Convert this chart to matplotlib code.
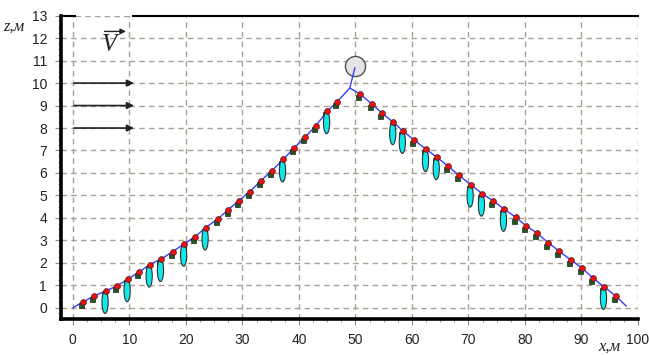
import matplotlib
matplotlib.use("Agg")
import matplotlib.pyplot as plt
from matplotlib.patches import Ellipse
from matplotlib.ticker import MultipleLocator

# cable nodes, left branch (x, z) in metres
left_x = [0, 1.8, 3.7, 5.8, 7.8, 9.7, 11.7, 13.6, 15.6, 17.7, 19.7, 21.6, 23.5, 25.7,
          27.5, 29.4, 31.3, 33.3, 35.2, 37.2, 39.1, 41.1, 43.0, 45.0, 46.7, 49.0]
left_z = [0, 0.26, 0.52, 0.75, 0.97, 1.27, 1.59, 1.92, 2.17, 2.5, 2.85, 3.15, 3.57, 3.96,
          4.37, 4.77, 5.17, 5.66, 6.1, 6.6, 7.1, 7.6, 8.1, 8.75, 9.15, 9.78]
# right branch
right_x = [50.8, 52.9, 54.7, 56.7, 58.4, 60.4, 62.5, 64.4, 66.4, 68.3, 70.4, 72.4, 74.3,
           76.3, 78.4, 80.2, 82.1, 84.1, 86.0, 88.1, 90.1, 92.0, 94.0, 96.1, 97.9]
right_z = [9.52, 9.07, 8.66, 8.26, 7.87, 7.46, 7.06, 6.7, 6.3, 5.9, 5.48, 5.08, 4.77,
           4.4, 4.02, 3.65, 3.33, 2.9, 2.53, 2.13, 1.77, 1.33, 0.93, 0.52, 0.08]
# nodes carrying a float
float_x = [5.8, 9.7, 13.6, 15.6, 19.7, 23.5, 37.2, 45.0,
           56.7, 58.4, 62.5, 64.4, 70.4, 72.4, 76.3, 94.0]
# surface buoy
buoy_x, buoy_z = 49.9, 10.77
# flow arrows
arrow_z = [10, 9, 8]

cable_x = left_x + right_x
cable_z = left_z + right_z
node_x = left_x[1:-1] + right_x[:-1]
node_z = left_z[1:-1] + right_z[:-1]
float_z = [cable_z[cable_x.index(v)] for v in float_x]

fig = plt.figure(figsize=(6.49, 3.55), dpi=100)
ax = fig.add_axes([0.094, 0.1014, 0.889, 0.8544])

ax.set_xlim(-2.1, 100)
ax.set_ylim(-0.5, 13)

grid_col = "#a8a294"
for gx in range(0, 101, 10):
    ax.axvline(gx, color=grid_col, lw=1.0, ls=(0, (4, 3)), zorder=0)
for gz in range(0, 13):
    ax.axhline(gz, color=grid_col, lw=1.0, ls=(0, (4, 3)), zorder=0)

# top border, broken where the V label sits
ax.plot([-2.1, 0.3], [13, 13], color="black", lw=1.5, zorder=1, clip_on=False)
ax.plot([10.6, 100], [13, 13], color="black", lw=1.5, zorder=1, clip_on=False)
ax.plot([0.3, 10.6], [13, 13], color=grid_col, lw=1.0, ls=(0, (4, 3)), zorder=0)

# buoy
ax.plot([buoy_x], [buoy_z], "o", ms=14.5, mfc="#e4e4e6", mec="#505050", mew=1.0, zorder=2)

# cable
ax.plot(cable_x, cable_z, color="#3a3aff", lw=1.0, zorder=3)
ax.plot([left_x[-1], buoy_x], [left_z[-1], buoy_z - 0.1], color="#3a3aff", lw=1.0, zorder=3)

# green anchors of each node
ax.plot([v - 0.3 for v in node_x], [v - 0.14 for v in node_z], "s", ms=3.6,
        mfc="#1e5a1e", mec="#222222", mew=0.5, zorder=4)

# floats
for fx, fz in zip(float_x, float_z):
    e = Ellipse((fx - 0.1, fz - 0.5), width=1.1, height=1.0, fc="#10e8ec",
                ec="#303030", lw=0.8, zorder=5)
    ax.add_patch(e)

# red node dots
ax.plot(node_x, node_z, "o", ms=4.2, mfc="#ee1010", mec="#402020", mew=0.5, zorder=6)

# flow arrows
for az in arrow_z:
    ax.annotate("", xy=(10.8, az), xytext=(0.2, az),
                arrowprops=dict(arrowstyle="-|>", color="#222222", lw=1.2,
                                mutation_scale=10, shrinkA=0, shrinkB=0))
ax.annotate("", xy=(9.4, 12.3), xytext=(5.6, 12.3),
            arrowprops=dict(arrowstyle="-|>", color="#222222", lw=1.0,
                            mutation_scale=8, shrinkA=0, shrinkB=0))
ax.text(6.5, 11.7, "V", fontsize=18, fontstyle="italic", family="Liberation Serif",
        ha="center", va="center", color="#222222")

# axes look
for s in ["top", "right"]:
    ax.spines[s].set_visible(False)
for s in ["left", "bottom"]:
    ax.spines[s].set_linewidth(2.6)
    ax.spines[s].set_color("black")

ax.xaxis.set_major_locator(MultipleLocator(10))
ax.xaxis.set_minor_locator(MultipleLocator(2.5))
ax.yaxis.set_major_locator(MultipleLocator(1))
ax.yaxis.set_minor_locator(MultipleLocator(0.25))
ax.tick_params(which="major", direction="out", length=4, width=0.8, color="#888888",
               labelsize=10, pad=6)
ax.tick_params(which="minor", direction="out", length=2, width=0.7, color="#999999")
for lab in ax.get_xticklabels() + ax.get_yticklabels():
    lab.set_family("Liberation Sans")
    lab.set_color("#222222")

fig.text(0.005, 0.915, "z,м", fontsize=12, fontstyle="italic", family="Liberation Serif",
         color="#222222")
fig.text(0.922, 0.012, "x,м", fontsize=12, fontstyle="italic", family="Liberation Serif",
         color="#222222")

fig.savefig("out.png", dpi=100)
